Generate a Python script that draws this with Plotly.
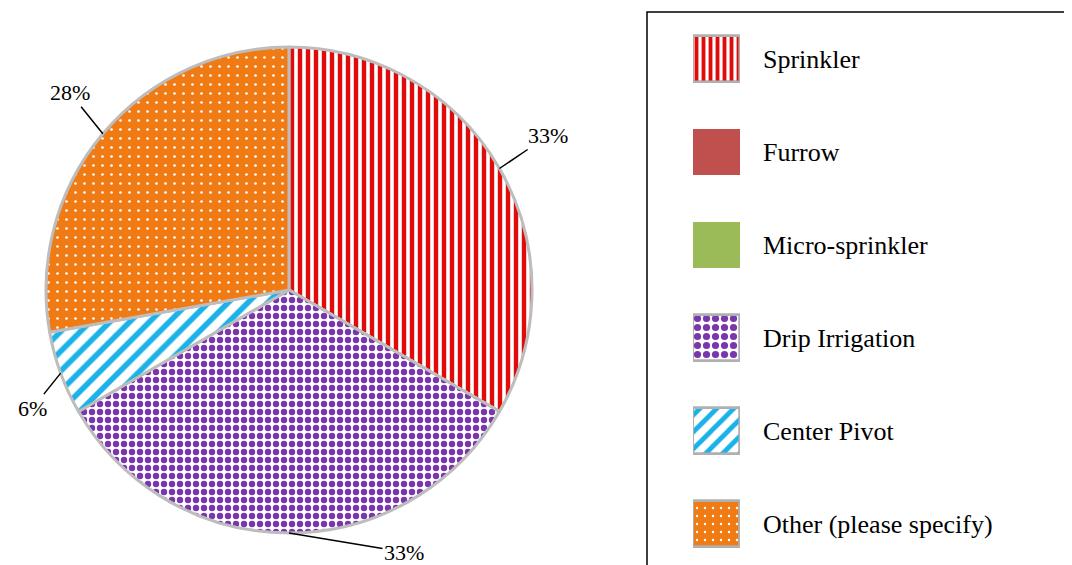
import math
import plotly.graph_objects as go

# ---------------- data ----------------
categories = ["Sprinkler", "Furrow", "Micro-sprinkler", "Drip Irrigation",
              "Center Pivot", "Other (please specify)"]
counts = [6, 0, 0, 6, 1, 5]
pct_labels = ["33%", "", "", "33%", "6%", "28%"]

# ---------------- style ----------------
base_colors = ["#FFFFFF", "#C0504D", "#9BBB59", "#FFFFFF", "#FFFFFF", "#F07A14"]
pattern_fg = ["#E00C0C", "#C0504D", "#9BBB59", "#7A36AC", "#1AB2E8", "#FFFFFF"]
pattern_shapes = ["|", "", "", ".", "/", "."]
pattern_sizes = [8, 8, 8, 8, 14, 9]
pattern_solidity = [0.55, 0.3, 0.3, 0.5, 0.4, 0.07]
label_offsets = [(49, -33), (0, 0), (0, 0), (115, 19), (-28, 35), (-33, -41)]

# the page body adds an 8px margin, so the figure starts at (8, 8) of the window
OFF = 8
W, H = 1072 - OFF, 565 - OFF
PIE_CX, PIE_CY, PIE_R = 289, 290, 243
FONT = "Liberation Serif"


def px(x):
    return (x - OFF) / W


def py(y):
    return 1 - (y - OFF) / H


fig = go.Figure()

fig.add_trace(go.Pie(
    labels=categories, values=counts, sort=False, direction="clockwise", rotation=0,
    domain=dict(x=[px(PIE_CX - PIE_R), px(PIE_CX + PIE_R)],
                y=[py(PIE_CY + PIE_R), py(PIE_CY - PIE_R)]),
    marker=dict(colors=base_colors, line=dict(color="#BDBDBD", width=3),
                pattern=dict(shape=pattern_shapes, fgcolor=pattern_fg, bgcolor=base_colors,
                             size=pattern_sizes, solidity=pattern_solidity, fillmode="replace")),
    textinfo="none", showlegend=False, hoverinfo="skip",
))

# legend swatches as bars on their own axes: solid background ...
swatch_len = [1] * len(categories)
fig.add_trace(go.Bar(
    y=categories, x=swatch_len, orientation="h", base=0, width=0.5,
    marker=dict(color=base_colors,
                line=dict(color="#B0B0B0", width=[2.5, 0, 0, 2.5, 2.5, 2.5])),
    xaxis="x", yaxis="y", showlegend=False, hoverinfo="skip",
))
# ... and the pattern on top
fig.add_trace(go.Bar(
    y=categories, x=swatch_len, orientation="h", base=0, width=0.5,
    marker=dict(color=pattern_fg,
                line=dict(color="#B0B0B0", width=[2.5, 0, 0, 2.5, 2.5, 2.5]),
                pattern=dict(shape=pattern_shapes, size=[7, 8, 8, 9, 12, 8],
                             solidity=pattern_solidity, fillmode="replace")),
    xaxis="x", yaxis="y", showlegend=False, hoverinfo="skip",
))

# percentage labels with leader lines
annotations = []
total = sum(counts)
cum = 0
for v, lbl, (dx, dy) in zip(counts, pct_labels, label_offsets):
    if v == 0:
        cum += v
        continue
    mid = (cum + v / 2) / total * 2 * math.pi
    cum += v
    ex = PIE_CX + PIE_R * math.sin(mid)
    ey = PIE_CY - PIE_R * math.cos(mid)
    annotations.append(dict(
        x=px(ex), y=py(ey), xref="paper", yref="paper", text=lbl,
        showarrow=True, arrowhead=0, arrowwidth=1.5, arrowcolor="black",
        ax=dx, ay=dy, font=dict(family=FONT, size=22, color="black"),
    ))

row0_px, row_step = 59, 93
fig.update_layout(
    width=W, height=H, margin=dict(l=0, r=0, t=0, b=0),
    paper_bgcolor="white", plot_bgcolor="white",
    font=dict(family=FONT, color="black"),
    barmode="overlay",
    xaxis=dict(domain=[px(693), px(740)], range=[0, 1], visible=False, fixedrange=True),
    yaxis=dict(domain=[0, 1], type="category", side="right", anchor="x",
               range=[(565 - row0_px) / row_step, (OFF - row0_px) / row_step],
               showgrid=False, zeroline=False, showline=False, ticks="",
               ticklabelstandoff=22,
               tickfont=dict(family=FONT, size=26, color="black")),
    annotations=annotations,
    shapes=[dict(type="rect", xref="paper", yref="paper",
                 x0=px(647), x1=1.05, y0=-0.05, y1=py(12),
                 line=dict(color="black", width=1.5), fillcolor="rgba(0,0,0,0)")],
    bargap=0,
)

fig.write_html("out.html")
